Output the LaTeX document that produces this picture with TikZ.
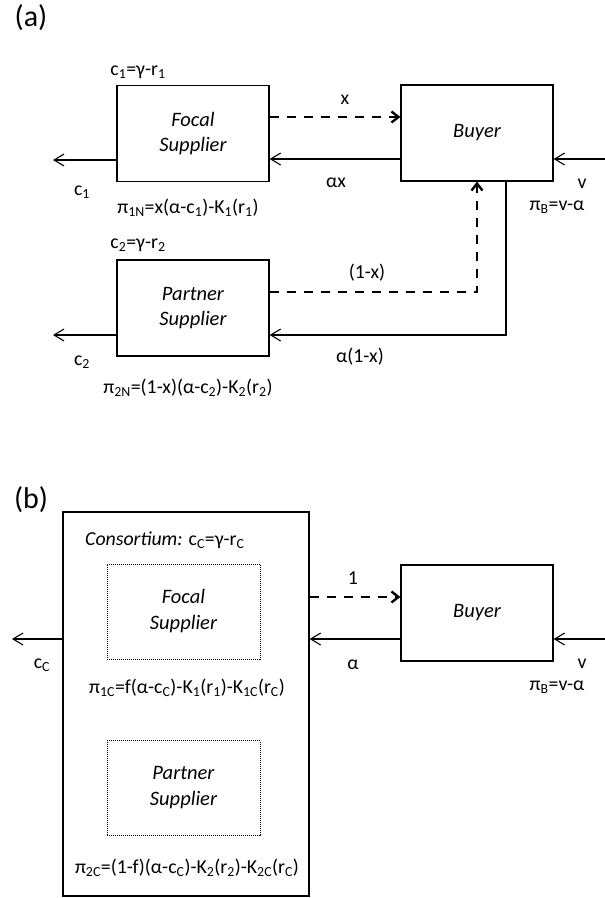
\documentclass[tikz,border=0pt]{standalone}
\usepackage{fontspec}
\setmainfont{Carlito}
\usetikzlibrary{arrows.meta}
\begin{document}
\begin{tikzpicture}[x=1pt,y=-1pt,
  box/.style={draw,line width=1.2pt,minimum width=152pt,minimum height=96pt,inner sep=0pt,align=center,font=\fontsize{20.5}{25}\selectfont\itshape},
  dotbox/.style={draw,line width=0.9pt,dash pattern=on 1pt off 1pt,minimum width=153pt,minimum height=95pt,inner sep=0pt,align=center,font=\fontsize{20.5}{26}\selectfont\itshape},
  lbl/.style={inner sep=0pt,font=\fontsize{19.8}{24}\selectfont},
  figcap/.style={inner sep=0pt,font=\fontsize{30}{34}\selectfont},
  flow/.style={line width=1.1pt,-{Straight Barb[length=10pt,width=12pt,line width=1.1pt]}},
  dflow/.style={line width=2.6pt,dash pattern=on 9pt off 8pt,-{Straight Barb[length=7pt,width=11pt,line width=2.4pt]}}
]
\useasboundingbox (0,0) rectangle (605,898);

% ---------- (a) ----------
\node[figcap] (capa) at (31,18) {(a)};
\node[box] (focal) at (193,133.5) {Focal\\Supplier};
\node[box] (buyer) at (477,133) {Buyer};
\node[box] (partner) at (193,308) {Partner\\Supplier};

\coordinate (c1tip) at (53,160);
\coordinate (yx) at (0,117);
\coordinate (yax) at (0,159);
\coordinate (vstart) at (605,159);
\coordinate (y1x) at (0,292);
\coordinate (xret) at (506,0);
\coordinate (ya1x) at (0,335);
\coordinate (c2tip) at (53,335);

\draw[flow] (focal.west |- c1tip) -- (c1tip);
\draw[dflow] (focal.east |- yx) -- (buyer.west |- yx);
\draw[flow] (buyer.west |- yax) -- (focal.east |- yax);
\draw[flow] (vstart) -- (buyer.east |- vstart);
\draw[dflow] (partner.east |- y1x) -| (buyer.south);
\draw[flow] (buyer.south -| xret) |- (partner.east |- ya1x);
\draw[flow] (partner.west |- c2tip) -- (c2tip);

\node[lbl] (lc1r) at (138,72) {c\textsubscript{1}=γ-r\textsubscript{1}};
\node[lbl] (lc1) at (82,192) {c\textsubscript{1}};
\node[lbl] (lpi1) at (188,208) {π\textsubscript{1N}=x(α-c\textsubscript{1})-K\textsubscript{1}(r\textsubscript{1})};
\node[lbl] (lx) at (345,100) {x};
\node[lbl] (lax) at (336,183) {αx};
\node[lbl] (lv) at (582,184) {v};
\node[lbl] (lpib) at (557,207) {π\textsubscript{B}=v-α};
\node[lbl] (lc2r) at (138,245) {c\textsubscript{2}=γ-r\textsubscript{2}};
\node[lbl] (lc2) at (82,362) {c\textsubscript{2}};
\node[lbl] (lpi2) at (188,388) {π\textsubscript{2N}=(1-x)(α-c\textsubscript{2})-K\textsubscript{2}(r\textsubscript{2})};
\node[lbl] (l1x) at (367,273) {(1-x)};
\node[lbl] (la1x) at (360,357) {α(1-x)};

% ---------- (b) ----------
\node[figcap] (capb) at (31,500) {(b)};
\node[draw,line width=1.2pt,minimum width=246pt,minimum height=384pt,inner sep=0pt] (cons) at (186,704) {};
\node[dotbox] (focalb) at (183.5,611.5) {Focal\\Supplier};
\node[dotbox] (partnerb) at (183.5,788) {Partner\\Supplier};
\node[box] (buyerb) at (477,613) {Buyer};

\coordinate (cctip) at (12,639);
\coordinate (y1) at (0,597);
\coordinate (ya) at (0,639);
\coordinate (vstartb) at (605,639);

\draw[flow] (cons.west |- cctip) -- (cctip);
\draw[dflow] (cons.east |- y1) -- (buyerb.west |- y1);
\draw[flow] (buyerb.west |- ya) -- (cons.east |- ya);
\draw[flow] (vstartb) -- (buyerb.east |- vstartb);

\node[lbl,anchor=west] (lcons) at (85,540) {\itshape Consortium: \upshape c\textsubscript{C}=γ-r\textsubscript{C}};
\node[lbl] (lcc) at (42,665) {c\textsubscript{C}};
\node[lbl] (lpi1c) at (187,688) {π\textsubscript{1C}=f(α-c\textsubscript{C})-K\textsubscript{1}(r\textsubscript{1})-K\textsubscript{1C}(r\textsubscript{C})};
\node[lbl] (lpi2c) at (187,868) {π\textsubscript{2C}=(1-f)(α-c\textsubscript{C})-K\textsubscript{2}(r\textsubscript{2})-K\textsubscript{2C}(r\textsubscript{C})};
\node[lbl] (lone) at (353,578) {1};
\node[lbl] (lal) at (353,665) {α};
\node[lbl] (lvb) at (582,664) {v};
\node[lbl] (lpibb) at (557,687) {π\textsubscript{B}=v-α};
\end{tikzpicture}
\end{document}
